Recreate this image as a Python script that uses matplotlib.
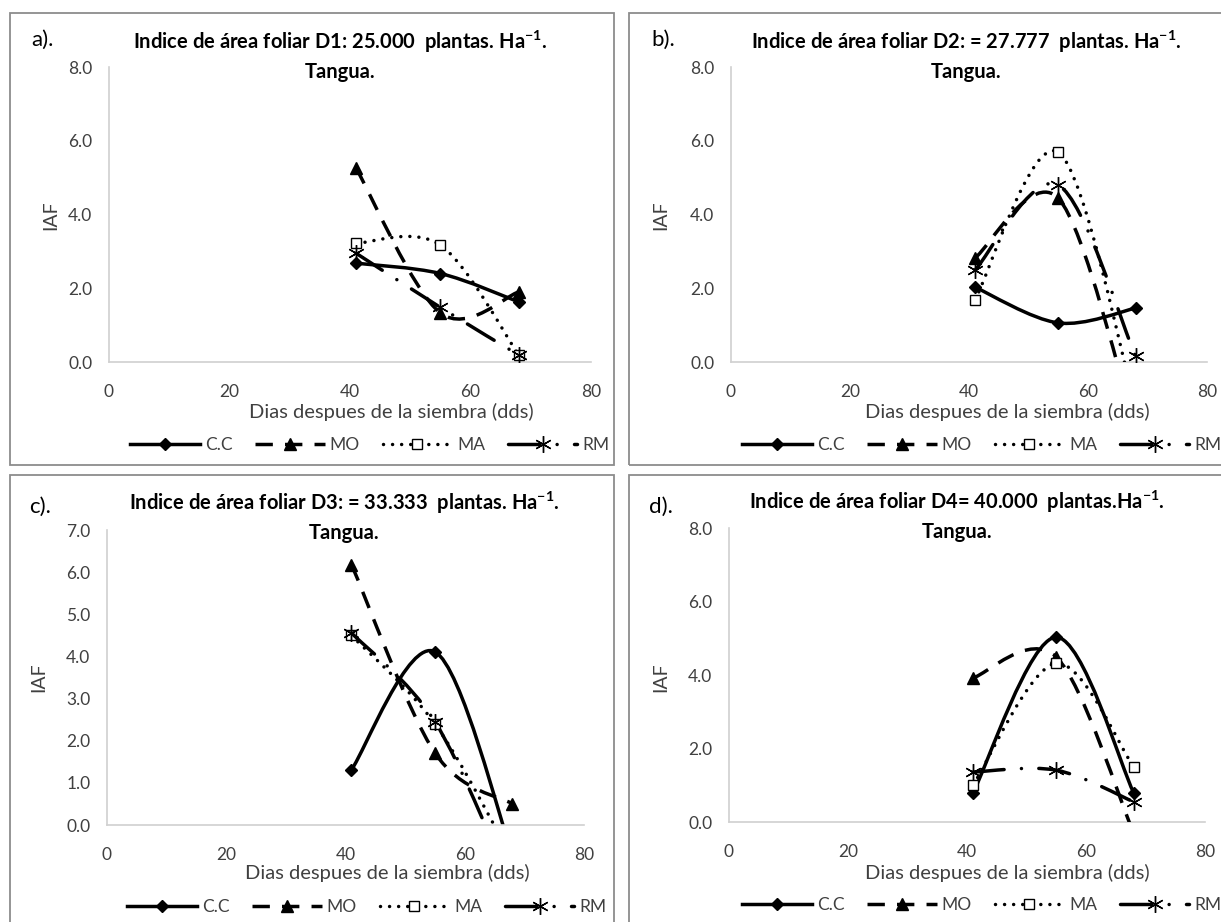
import numpy as np
import matplotlib
matplotlib.use('Agg')
import matplotlib.pyplot as plt
from matplotlib.path import Path
from matplotlib.patches import PathPatch, Rectangle
from matplotlib.lines import Line2D

#fonts
plt.rcParams['font.family'] = ['Lato', 'DejaVu Sans']
plt.rcParams['mathtext.fontset'] = 'custom'
plt.rcParams['mathtext.rm'] = 'Lato'
plt.rcParams['mathtext.bf'] = 'Lato:bold'

W, H = 1221, 922

#days after sowing
days = [41, 55, 68]

#leaf area index per panel and treatment
a_cc = [2.68, 2.40, 1.63]
a_mo = [5.26, 1.33, 1.90]
a_ma = [3.22, 3.17, 0.19]
a_rm = [2.95, 1.48, 0.19]

b_cc = [2.03, 1.06, 1.46]
b_mo = [2.82, 4.44, -1.8]
b_ma = [1.68, 5.69, -1.2]
b_rm = [2.49, 4.80, 0.15]

c_cc = [1.31, 4.11, -0.7]
c_mo = [6.18, 1.71, 0.50]
c_ma = [4.50, 2.40, -0.8]
c_rm = [4.56, 2.45, -1.5]

d_cc = [0.79, 5.03, 0.80]
d_mo = [3.92, 4.49, -0.3]
d_ma = [1.00, 4.32, 1.50]
d_rm = [1.36, 1.41, 0.55]

series_names = ['C.C', 'MO', 'MA', 'RM']

titles = ['Indice de área foliar D1: 25.000  plantas. Ha$^{\\mathbf{-1}}$.',
          'Indice de área foliar D2: = 27.777  plantas. Ha$^{\\mathbf{-1}}$.',
          'Indice de área foliar D3: = 33.333  plantas. Ha$^{\\mathbf{-1}}$.',
          'Indice de área foliar D4= 40.000  plantas.Ha$^{\\mathbf{-1}}$.']
letters = ['a).', 'b).', 'c).', 'd).']
y_max = [8, 8, 7, 8]
y_step = [2, 2, 1, 2]

#styles for each treatment
lw = 2.5
styles = [
    dict(ls='-', cap='butt', marker='D', ms=6, mfc='black', mew=1),
    dict(ls=(0, (5, 3.5)), cap='butt', marker='^', ms=8.5, mfc='black', mew=1),
    dict(ls=(0, (0.01, 2.6)), cap='round', marker='s', ms=7.5, mfc='white', mew=1),
    dict(ls=(0, (9, 5, 0.01, 5)), cap='round', marker=(6, 2, 0), ms=12, mfc='black', mew=1),
]

#pixel layout of each panel
plot_px = [(109, 67, 591, 362), (731, 67, 1207, 362),
           (107, 530, 584, 825), (729, 528, 1205, 822)]
frame_px = [(10, 13, 614, 465), (629, 13, 1240, 465),
            (10, 475, 614, 940), (629, 475, 1240, 940)]
title_px = [(340, 42, 72), (966, 42, 72), (344, 503, 533), (957, 502, 532)]
letter_px = [(31, 40), (651, 40), (29, 507), (649, 507)]
xlabel_px = [(391, 412), (1007, 412), (387, 873), (1007, 873)]
ylabel_px = [(51, 215), (661, 215), (39, 677), (661, 677)]
legend_px = [(370, 445), (982, 445), (367, 907), (982, 905)]


def fx(x):
    return x / W


def fy(y):
    return 1 - y / H


def excel_smooth(xs, ys):
    #bezier path like excel smoothed lines
    pts = list(zip(xs, ys))
    n = len(pts)
    verts = [pts[0]]
    codes = [Path.MOVETO]
    for i in range(n - 1):
        p0 = pts[i - 1] if i > 0 else pts[i]
        p1 = pts[i]
        p2 = pts[i + 1]
        p3 = pts[i + 2] if i + 2 < n else pts[i + 1]
        c1 = (p1[0] + (p2[0] - p0[0]) / 6, p1[1] + (p2[1] - p0[1]) / 6)
        c2 = (p2[0] - (p3[0] - p1[0]) / 6, p2[1] - (p3[1] - p1[1]) / 6)
        verts += [c1, c2, p2]
        codes += [Path.CURVE4] * 3
    return Path(verts, codes)


fig = plt.figure(figsize=(W / 100, H / 100), dpi=100)

panels = [[a_cc, a_mo, a_ma, a_rm], [b_cc, b_mo, b_ma, b_rm],
          [c_cc, c_mo, c_ma, c_rm], [d_cc, d_mo, d_ma, d_rm]]

for k, data in enumerate(panels):
    #frame around the panel
    x0, y0, x1, y1 = frame_px[k]
    fig.add_artist(Rectangle((fx(x0), fy(y1)), fx(x1 - x0), (y1 - y0) / H,
                             transform=fig.transFigure, fill=False,
                             edgecolor='#8c8c8c', linewidth=1.3))
    l, t, r, b = plot_px[k]
    ax = fig.add_axes([fx(l), fy(b), fx(r - l), (b - t) / H])
    for j, vals in enumerate(data):
        st = styles[j]
        patch = PathPatch(excel_smooth(days, vals), fill=False, edgecolor='black',
                          linewidth=lw, linestyle=st['ls'], capstyle=st['cap'],
                          zorder=2 + j)
        ax.add_patch(patch)
        ax.plot(days, vals, linestyle='none', marker=st['marker'], ms=st['ms'],
                mfc=st['mfc'], mec='black', mew=st['mew'], zorder=2.5 + j)
    ax.set_xlim(0, 80)
    ax.set_ylim(0, y_max[k])
    ax.set_xticks([0, 20, 40, 60, 80])
    ax.set_yticks(np.arange(0, y_max[k] + 0.01, y_step[k]))
    ax.yaxis.set_major_formatter(matplotlib.ticker.FormatStrFormatter('%.1f'))
    ax.tick_params(length=0, labelsize=12.5, labelcolor='#404040')
    ax.tick_params(axis='y', pad=12)
    ax.tick_params(axis='x', pad=16)
    for s in ['top', 'right']:
        ax.spines[s].set_visible(False)
    for s in ['left', 'bottom']:
        ax.spines[s].set_color('#d0d0d0')
        ax.spines[s].set_linewidth(1.2)
    ax.patch.set_alpha(0)

    #titles and labels
    tx, ty1, ty2 = title_px[k]
    fig.text(fx(tx), fy(ty1), titles[k], ha='center', va='center',
             fontsize=14.5, fontweight='bold')
    fig.text(fx(tx), fy(ty2), 'Tangua.', ha='center', va='center',
             fontsize=14.5, fontweight='bold')
    lx, ly = letter_px[k]
    fig.text(fx(lx), fy(ly), letters[k], ha='left', va='center', fontsize=16)
    xx, xy = xlabel_px[k]
    fig.text(fx(xx), fy(xy), 'Dias despues de la siembra (dds)', ha='center',
             va='center', fontsize=14.5, color='#404040')
    yx, yy = ylabel_px[k]
    fig.text(fx(yx), fy(yy), 'IAF', ha='center', va='center', rotation=90,
             fontsize=14, color='#404040')

    #legend below the plot
    handles = []
    for j, st in enumerate(styles):
        handles.append(Line2D([], [], color='black', linewidth=lw, linestyle=st['ls'],
                              dash_capstyle=st['cap'], marker=st['marker'],
                              ms=st['ms'], mfc=st['mfc'], mec='black', mew=st['mew']))
    gx, gy = legend_px[k]
    fig.legend(handles, series_names, loc='center', bbox_to_anchor=(fx(gx), fy(gy)),
               ncol=4, frameon=False, fontsize=12.5, handlelength=4.0,
               handletextpad=0.3, columnspacing=1.3, numpoints=1,
               labelcolor='#404040')

fig.savefig('out.png', dpi=100)
